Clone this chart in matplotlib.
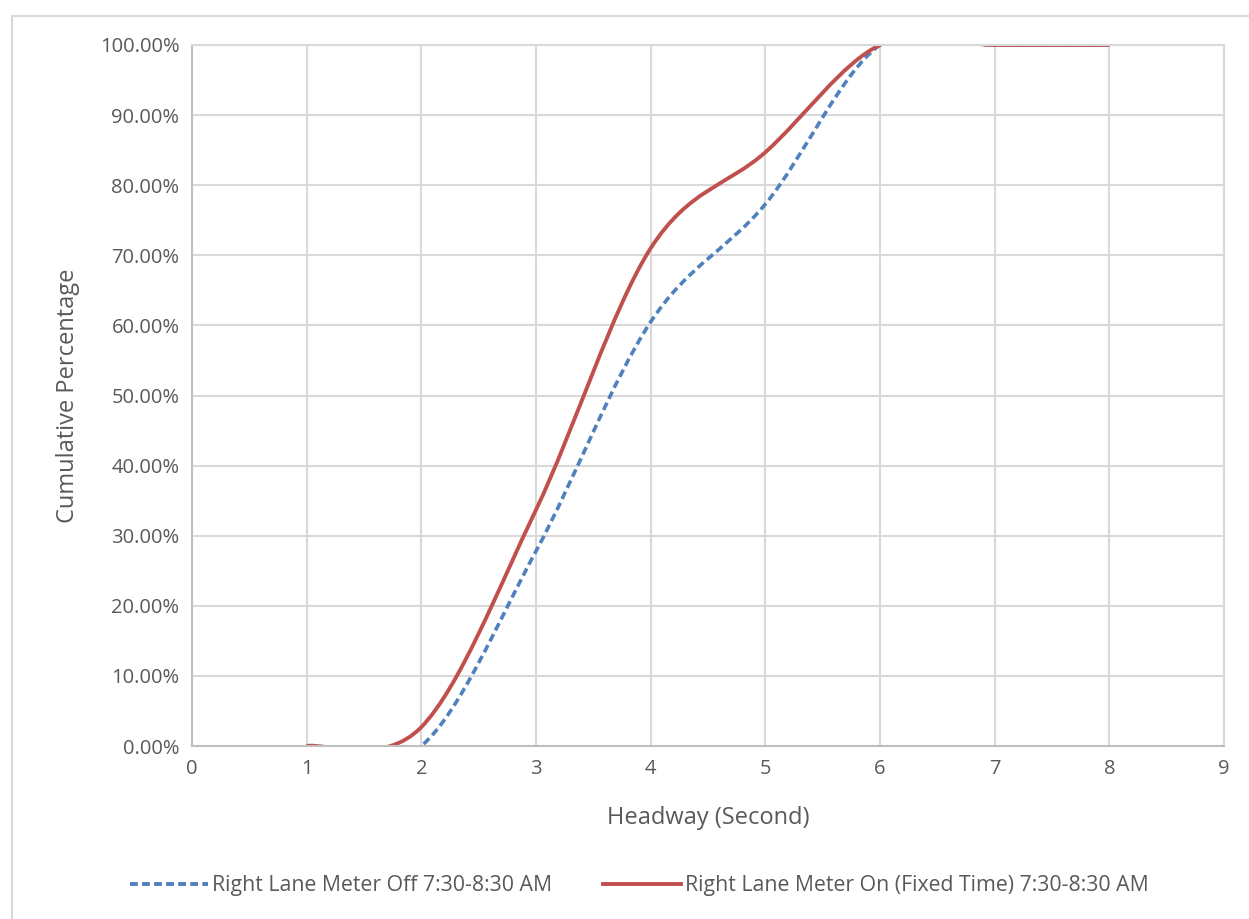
import numpy as np
import matplotlib
matplotlib.use("Agg")
import matplotlib.pyplot as plt
from matplotlib.path import Path
from matplotlib.patches import PathPatch, Rectangle
from matplotlib.lines import Line2D
from matplotlib.ticker import PercentFormatter

plt.rcParams['font.family'] = ['Open Sans', 'DejaVu Sans']

# headway bins (seconds) and cumulative shares
headway = [1, 2, 3, 4, 5, 6, 7, 8]
meter_off = [0.0, 0.0, 0.278, 0.605, 0.773, 1.0, 1.0, 1.0]
meter_on = [0.0, 0.027, 0.337, 0.71, 0.847, 1.0, 1.0, 1.0]

label_off = "Right Lane Meter Off 7:30-8:30 AM"
label_on = "Right Lane Meter On (Fixed Time) 7:30-8:30 AM"

c_off = "#4f81bd"
c_on = "#c0504d"
text_c = "#595959"


def smooth_path(xs, ys):
    # Excel-style smoothed line: cubic Bezier segments, catmull-rom control points
    p = np.column_stack([xs, ys]).astype(float)
    p = np.vstack([p[0], p, p[-1]])
    verts = [p[1]]
    codes = [Path.MOVETO]
    for i in range(1, len(p) - 2):
        c1 = p[i] + (p[i + 1] - p[i - 1]) / 6
        c2 = p[i + 1] - (p[i + 2] - p[i]) / 6
        verts += [c1, c2, p[i + 1]]
        codes += [Path.CURVE4] * 3
    return Path(verts, codes)


fig = plt.figure(figsize=(12.49, 9.19), dpi=100)
fig.patches.append(Rectangle((12 / 1249, -0.1), 1.2, 1 - 16 / 919 + 0.1,
                             transform=fig.transFigure, fill=False,
                             edgecolor="#d9d9d9", linewidth=1.5))
ax = fig.add_axes([192 / 1249, 1 - 746 / 919, 1032 / 1249, 701 / 919])

ax.add_patch(PathPatch(smooth_path(headway, meter_off), fill=False, edgecolor=c_off,
                       linewidth=2.6, linestyle=(0, (2.2, 1.2))))
ax.add_patch(PathPatch(smooth_path(headway, meter_on), fill=False, edgecolor=c_on,
                       linewidth=2.8))

ax.set_xlim(0, 9)
ax.set_ylim(0, 1)
ax.set_xticks(range(0, 10))
ax.set_yticks(np.arange(0, 1.01, 0.1))
ax.yaxis.set_major_formatter(PercentFormatter(1.0, decimals=2))
ax.grid(True, color="#d9d9d9", linewidth=1.5)
ax.set_axisbelow(True)
for s in ["top", "right"]:
    ax.spines[s].set_color("#d9d9d9")
    ax.spines[s].set_linewidth(1.5)
ax.spines["left"].set_color("#bfbfbf")
ax.spines["bottom"].set_color("#bfbfbf")
ax.spines["left"].set_linewidth(1.5)
ax.spines["bottom"].set_linewidth(1.5)
ax.tick_params(length=0, labelsize=14.5, labelcolor=text_c, pad=9)

ax.set_xlabel("Headway (Second)", fontsize=17, color=text_c, labelpad=20)
ax.set_ylabel("Cumulative Percentage", fontsize=17, color=text_c, labelpad=14)

handles = [Line2D([], [], color=c_off, linewidth=2.8, linestyle=(0, (2.0, 1.1))),
           Line2D([], [], color=c_on, linewidth=2.8)]
fig.legend(handles, [label_off, label_on], loc="center", ncol=2,
           bbox_to_anchor=(0.5 + 15 / 1249, 1 - 886 / 919), frameon=False, fontsize=15.3,
           labelcolor=text_c, handlelength=3.65, handletextpad=0.2, columnspacing=2.4)

fig.savefig("out.png", dpi=100)
